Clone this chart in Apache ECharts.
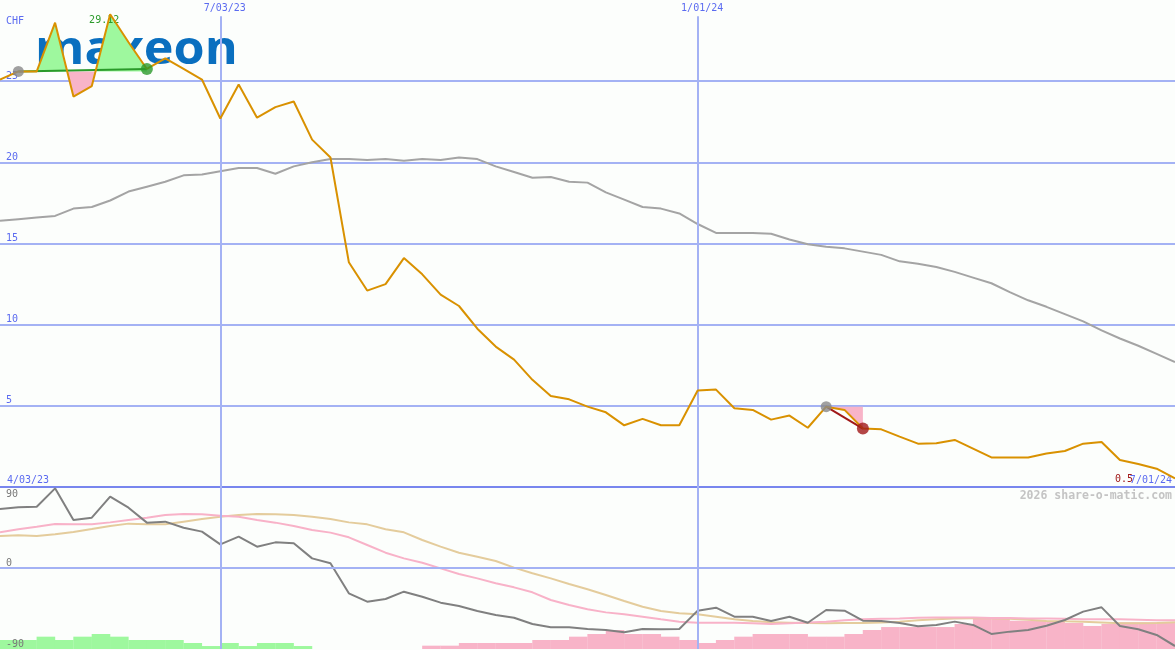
<!DOCTYPE html>
<html><head><meta charset="utf-8">
<script src="https://cdn.jsdelivr.net/npm/echarts@6/dist/echarts.min.js"></script>
<style>html,body{margin:0;padding:0;background:#fcfefc}#c{width:1175px;height:650px}</style>
</head><body><div id="c"></div>
<script>
// ---------- DATA ----------
const currency = 'CHF';
const logoText = 'maxeon';
const watermark = '2026 share-o-matic.com';
const xStartLabel = '4/03/23';
const xEndLabel = '7/01/24';
// vertical date markers: [label, week index]
const dateTickLabels = ['7/03/23', '1/01/24'];
const dateTickWeeks = [12, 38];

// weekly closing price (CHF)
const price = [25.1, 25.6, 25.6, 28.6, 24.05, 24.7, 29.12, 27.4, 25.75, 26.4,
  25.75, 25.1, 22.7, 24.8, 22.75, 23.4, 23.75, 21.4, 20.3, 13.85,
  12.1, 12.5, 14.1, 13.1, 11.85, 11.15, 9.75, 8.65, 7.85, 6.6,
  5.6, 5.4, 4.95, 4.6, 3.8, 4.2, 3.8, 3.8, 5.95, 6.0,
  4.85, 4.75, 4.15, 4.4, 3.65, 4.95, 4.75, 3.6, 3.55, 3.1,
  2.67, 2.7, 2.9, 2.36, 1.82, 1.82, 1.82, 2.06, 2.22, 2.67,
  2.77, 1.66, 1.42, 1.13, 0.53];

// moving average (grey)
const movingAvg = [16.4, 16.5, 16.6, 16.7, 17.15, 17.25, 17.65, 18.2, 18.5, 18.8,
  19.2, 19.25, 19.45, 19.65, 19.65, 19.3, 19.75, 20.0, 20.2, 20.2,
  20.15, 20.2, 20.1, 20.2, 20.15, 20.3, 20.2, 19.75, 19.4, 19.05,
  19.1, 18.8, 18.75, 18.15, 17.7, 17.25, 17.15, 16.85, 16.2, 15.65,
  15.65, 15.65, 15.6, 15.25, 14.95, 14.8, 14.7, 14.5, 14.3, 13.9,
  13.75, 13.55, 13.25, 12.9, 12.55, 12.0, 11.5, 11.1, 10.65, 10.2,
  9.65, 9.15, 8.7, 8.2, 7.7];

// lower panel oscillator (dark grey)
const oscillator = [65.6, 67.4, 68.1, 88.5, 53.3, 55.9, 79.3, 67, 50.4, 51.5,
  44.8, 40.4, 26.3, 34.8, 23.7, 28.5, 27.4, 10.7, 5.2, -28.1,
  -37.4, -34.4, -26.3, -31.9, -38.5, -42.2, -47.8, -52.2, -55.2, -62.2,
  -65.9, -65.9, -67.8, -68.9, -71.4, -67.8, -68.1, -67.8, -47.4, -44.1,
  -54.1, -54.1, -58.9, -54.1, -60.8, -46.7, -47.4, -58.5, -58.9, -61,
  -64.8, -63.3, -59.6, -63.3, -73.3, -70.7, -68.9, -64.1, -57.8, -48.5,
  -43.7, -64.4, -68.1, -74.4, -86.7];

// lower panel fast signal (pink)
const signalFast = [39.6, 43, 45.9, 48.9, 48.5, 48.5, 50.7, 53.3, 55.9, 58.9,
  60, 59.6, 58.1, 57, 53.3, 50.4, 46.7, 42.2, 39.3, 34.1,
  25.6, 17, 10.7, 5.9, -0.4, -6.7, -11.5, -17, -21.5, -27,
  -35.6, -41.1, -45.9, -49.3, -51.5, -54.1, -57, -59.6, -60.8, -60.8,
  -60.8, -61.5, -62.2, -61.5, -60.5, -59.6, -58, -57, -56.5, -56,
  -55.3, -55, -55, -55, -55.5, -55.5, -56, -56, -56.5, -57,
  -57, -57, -57.5, -58, -58];

// lower panel slow signal (tan)
const signalSlow = [35.6, 36.3, 35.6, 37.4, 40, 43.3, 46.7, 49.3, 48.5, 48.5,
  51.5, 54.4, 57, 58.9, 60, 59.6, 58.9, 57, 54.4, 50.7,
  48.5, 43, 39.6, 31.1, 23.7, 17, 12.6, 7.8, 0.4, -5.9,
  -11.5, -17.8, -23.7, -30, -36.7, -43, -47.8, -50.4, -51.5, -54.1,
  -57, -58.9, -60.4, -60.8, -61.2, -61.5, -61.2, -61, -60.5, -59.6,
  -58, -57, -56.2, -55.9, -55.9, -56.5, -57.5, -58.9, -59.3, -59.6,
  -60.5, -61.5, -61.5, -61, -60.4];

// histogram (one bar per week interval; + green, - pink), height units of the lower scale
const histogram = [10, 10, 13.7, 10, 13.7, 16.7, 13.7, 10, 10, 10,
  6.7, 3.3, 6.7, 3.3, 6.7, 6.7, 3.3, 0, 0, 0,
  0, 0, 0, -3.7, -3.7, -6.7, -6.7, -6.7, -6.7, -10,
  -10, -13.7, -16.7, -21.1, -16.7, -16.7, -13.7, -10, -6.7, -10,
  -13.7, -16.7, -16.7, -16.7, -13.7, -13.7, -16.7, -21.1, -24.4, -24.4,
  -24.4, -24.4, -27.8, -34.4, -34.4, -31.4, -31.4, -31.4, -28.9, -25.6,
  -27.8, -29.7, -29.7, -28.9];

// highlighted moves: [fromWeek, toWeek]
const moveFrom = [1, 45];
const moveTo = [8, 47];

// ---------- STYLE ----------
const N = price.length;
const BG = '#fcfefc';
const GRID_L = '#a4b2f4';
const GRID_D = '#7886ee';
const TXT_B = '#5b6bf0';
const TXT_G = '#787878';
const MONO = '"DejaVu Sans Mono", monospace';
const ORANGE = '#d99100';
const GREEN_F = '#9ef89e';
const PINK_F = '#f8b4c8';
const UP_COL = '#2a9a2a';
const DOWN_COL = '#a01818';
const VLINE_TOP = 29;
const moveColors = moveFrom.map((f, k) => price[moveTo[k]] >= price[f] ? UP_COL : DOWN_COL);

const xy = arr => arr.map((v, i) => [i, v]);
const iMax = price.indexOf(Math.max(...price));

function buildFillPolys(from, to) {
  const ref = price[from];
  const pieces = [];
  for (let i = from; i < to; i++) {
    const x0 = i, y0 = price[i], x1 = i + 1, y1 = price[i + 1];
    const d0 = y0 - ref, d1 = y1 - ref;
    if (d0 * d1 < 0) {
      const xc = x0 + d0 / (d0 - d1);
      pieces.push({s: Math.sign(d0), a: [x0, y0], b: [xc, ref]});
      pieces.push({s: Math.sign(d1), a: [xc, ref], b: [x1, y1]});
    } else {
      pieces.push({s: Math.sign(d0 !== 0 ? d0 : d1), a: [x0, y0], b: [x1, y1]});
    }
  }
  const runs = [];
  let cur = null;
  pieces.forEach(p => {
    if (p.s === 0) { cur = null; return; }
    if (!cur || cur.s !== p.s) { cur = {s: p.s, pts: [p.a]}; runs.push(cur); }
    cur.pts.push(p.b);
  });
  return runs.map(r => {
    const first = r.pts[0], last = r.pts[r.pts.length - 1];
    return {s: r.s, pts: r.pts.concat([[last[0], ref], [first[0], ref]])};
  });
}
const fillPolys = moveFrom.flatMap((f, k) => buildFillPolys(f, moveTo[k]));

const chart = echarts.init(document.getElementById('c'), null, {renderer: 'canvas'});
const labelFont = {fontFamily: MONO, fontSize: 10};

const option = {
  animation: false,
  backgroundColor: BG,
  grid: [
    {left: 0, right: 0, top: 0, height: 487},
    {left: 0, right: 0, top: 487, height: 162}
  ],
  xAxis: [
    {gridIndex: 0, type: 'value', min: 0, max: N - 1, interval: N - 1,
      axisLine: {show: false}, axisTick: {show: false}, splitLine: {show: false},
      axisLabel: Object.assign({inside: true, margin: 2, showMinLabel: true, showMaxLabel: true,
        alignMinLabel: 'left', alignMaxLabel: 'right', padding: [0, 3, 0, 7], color: TXT_B,
        formatter: v => v === 0 ? xStartLabel : (v === N - 1 ? xEndLabel : '')}, labelFont)},
    {gridIndex: 1, type: 'value', min: 0, max: N - 1, show: false}
  ],
  yAxis: [
    {gridIndex: 0, type: 'value', position: 'left', min: 0, max: 30, interval: 5,
      axisLine: {show: false}, axisTick: {show: false},
      axisLabel: Object.assign({inside: true, margin: 6, verticalAlign: 'bottom', color: TXT_B,
        formatter: v => (v > 0 && v < 30) ? String(v) : ''}, labelFont),
      splitLine: {show: true, lineStyle: {width: 2,
        color: [GRID_D, GRID_L, GRID_L, GRID_L, GRID_L, GRID_L, 'rgba(0,0,0,0)']}}},
    {gridIndex: 1, type: 'value', position: 'left', min: -90, max: 90, interval: 90, z: 10,
      axisLine: {show: false}, axisTick: {show: false},
      axisLabel: Object.assign({inside: true, margin: 6, verticalAlign: 'top', color: TXT_G, padding: [2, 0, 0, 0],
        formatter: v => v === 90 ? String(v) : ''}, labelFont),
      splitLine: {show: true, lineStyle: {width: 2, color: ['rgba(0,0,0,0)', GRID_L, 'rgba(0,0,0,0)']}}},
    {gridIndex: 1, type: 'value', position: 'left', min: -90, max: 90, interval: 90, z: 10,
      axisLine: {show: false}, axisTick: {show: false}, splitLine: {show: false},
      axisLabel: Object.assign({inside: true, margin: 6, verticalAlign: 'bottom', color: TXT_G,
        formatter: v => v < 90 ? String(v) : ''}, labelFont)},
    {gridIndex: 1, type: 'value', position: 'left', min: 0, max: 180, show: false}
  ],
  graphic: {
    elements: [
      {type: 'rect', z: 2, silent: true, shape: {x: 30, y: 31, width: 210, height: 36}, style: {fill: BG}},
      {type: 'text', z: 2, silent: true, x: 35, y: 51, scaleX: 1.07,
        style: {text: logoText, x: 0, y: 0, align: 'left', verticalAlign: 'middle',
          fontFamily: 'Open Sans', fontWeight: 'bold', fontSize: 47, fill: '#0a6fbf'}},
      {type: 'text', z: 10, silent: true, x: 6, y: 21,
        style: {text: currency, align: 'left', verticalAlign: 'middle', fontFamily: MONO, fontSize: 10, fill: TXT_B}},
      {type: 'text', z: 10, silent: true, x: 1172, y: 496,
        style: {text: watermark, align: 'right', verticalAlign: 'middle', fontFamily: MONO, fontWeight: 'bold', fontSize: 11.5, fill: '#c4c4c4'}}
    ]
  },
  series: [
    {type: 'line', name: 'ma', xAxisIndex: 0, yAxisIndex: 0, z: 1, silent: true, data: xy(movingAvg),
      symbol: 'none', lineStyle: {color: '#a4a4a4', width: 2},
      markLine: {silent: true, symbol: ['none', 'none'], animation: false, emphasis: {disabled: true},
        lineStyle: {color: GRID_L, width: 2, type: 'solid'},
        label: Object.assign({show: true, position: 'end', distance: 3, color: TXT_B, padding: [0, 0, 0, 9],
          formatter: p => p.name}, labelFont),
        data: dateTickWeeks.map((w, k) => [{name: dateTickLabels[k], coord: [w, 0]}, {coord: [w, VLINE_TOP]}])}},
    {type: 'custom', name: 'fills', xAxisIndex: 0, yAxisIndex: 0, z: 3, silent: true, data: [0],
      renderItem: (params, api) => ({
        type: 'group',
        children: fillPolys.map(p => ({
          type: 'polygon',
          shape: {points: p.pts.map(pt => api.coord(pt))},
          style: {fill: p.s > 0 ? GREEN_F : PINK_F}
        }))
      })},
    ...moveFrom.map((f, k) => ({type: 'line', xAxisIndex: 0, yAxisIndex: 0, z: 5, silent: true,
      data: [[f, price[f]], [moveTo[k], price[moveTo[k]]]], symbol: 'none',
      lineStyle: {color: moveColors[k], width: 2}})),
    {type: 'line', name: 'price', xAxisIndex: 0, yAxisIndex: 0, z: 6, silent: true, data: xy(price),
      symbol: 'none', lineStyle: {color: ORANGE, width: 2},
      markPoint: {silent: true, symbol: 'circle', symbolSize: 0, animation: false,
        label: Object.assign({show: true, position: 'inside'}, labelFont),
        data: [
          {coord: [iMax, price[iMax]], label: {formatter: price[iMax].toFixed(2), color: UP_COL, offset: [-6, 6]}},
          {coord: [N - 1, price[N - 1]], label: {formatter: price[N - 1].toFixed(1), color: DOWN_COL, offset: [-51, 1]}}
        ]}},
    {type: 'scatter', xAxisIndex: 0, yAxisIndex: 0, z: 7, silent: true,
      data: moveFrom.flatMap((f, k) => [
        {value: [f, price[f]], symbolSize: 11, itemStyle: {color: '#888888'}},
        {value: [moveTo[k], price[moveTo[k]]], symbolSize: 12, itemStyle: {color: moveColors[k]}}
      ])},
    // lower panel
    {type: 'bar', xAxisIndex: 1, yAxisIndex: 3, z: 1, silent: true, barWidth: 18.6,
      data: histogram.map((v, k) => ({value: [k + 0.5, Math.abs(v)], itemStyle: {color: v > 0 ? GREEN_F : PINK_F}}))
        .filter((d, k) => histogram[k] !== 0),
      markLine: {silent: true, symbol: ['none', 'none'], animation: false, emphasis: {disabled: true},
        lineStyle: {color: GRID_L, width: 2, type: 'solid'}, label: {show: false},
        data: dateTickWeeks.map(w => ({xAxis: w}))}},
    {type: 'line', xAxisIndex: 1, yAxisIndex: 1, z: 2, silent: true, data: xy(signalSlow),
      symbol: 'none', lineStyle: {color: '#e4cc9c', width: 2}},
    {type: 'line', xAxisIndex: 1, yAxisIndex: 1, z: 2, silent: true, data: xy(signalFast),
      symbol: 'none', lineStyle: {color: '#f8b2c8', width: 2}},
    {type: 'line', xAxisIndex: 1, yAxisIndex: 1, z: 2, silent: true, data: xy(oscillator),
      symbol: 'none', lineStyle: {color: '#808080', width: 2}}
  ]
};
chart.setOption(option);
</script></body></html>
